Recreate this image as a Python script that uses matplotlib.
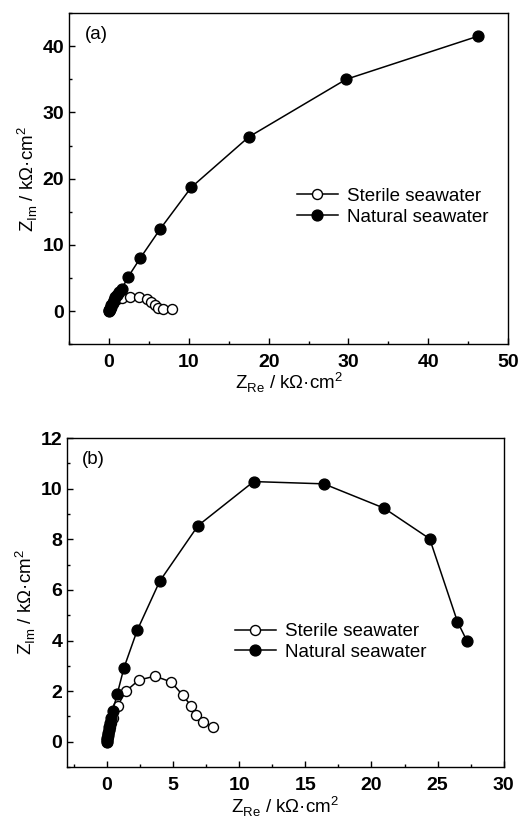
import numpy as np
import matplotlib
matplotlib.use("Agg")
import matplotlib.pyplot as plt
from matplotlib.ticker import MultipleLocator

plt.rcParams["font.family"] = ["Liberation Sans", "DejaVu Sans"]
plt.rcParams["mathtext.fontset"] = "custom"
plt.rcParams["mathtext.rm"] = "Liberation Sans"

# Panel (a)
a_sterile_re = [0.0, 0.08, 0.15, 0.25, 0.4, 0.55, 0.75, 1.0, 1.6, 2.6, 3.7, 4.7, 5.3, 5.8, 6.1, 6.8, 7.9]
a_sterile_im = [0.0, 0.25, 0.5, 0.8, 1.1, 1.4, 1.7, 1.9, 2.0, 2.2, 2.2, 1.9, 1.4, 0.9, 0.55, 0.3, 0.3]
a_natural_re = [0.0, 0.05, 0.1, 0.2, 0.3, 0.45, 0.6, 0.8, 1.0, 1.2, 1.6, 2.4, 3.9, 6.4, 10.3, 17.5, 29.7, 46.2]
a_natural_im = [0.0, 0.2, 0.4, 0.7, 1.0, 1.3, 1.7, 2.1, 2.5, 2.9, 3.4, 5.2, 8.0, 12.4, 18.7, 26.3, 35.0, 41.5]

# Panel (b)
b_sterile_re = [0.0, 0.03, 0.06, 0.1, 0.15, 0.22, 0.3, 0.5, 0.83, 1.45, 2.43, 3.65, 4.88, 5.75, 6.4, 6.75, 7.25, 8.05]
b_sterile_im = [0.0, 0.1, 0.2, 0.32, 0.45, 0.6, 0.75, 0.93, 1.43, 2.0, 2.44, 2.59, 2.36, 1.83, 1.4, 1.04, 0.76, 0.6]
b_natural_re = [0.0, 0.02, 0.04, 0.07, 0.1, 0.14, 0.18, 0.23, 0.3, 0.45, 0.8, 1.3, 2.3, 4.0, 6.9, 11.1, 16.4, 20.95, 24.4, 26.5, 27.2]
b_natural_im = [0.0, 0.08, 0.16, 0.25, 0.35, 0.47, 0.6, 0.75, 0.92, 1.22, 1.9, 2.92, 4.4, 6.34, 8.54, 10.28, 10.19, 9.23, 8.02, 4.74, 4.0]

fig = plt.figure(figsize=(5.32, 8.18), dpi=100)

ylab = "Z$_{\\rm Im}$ / k\u03a9\u00b7cm$^2$"
xlab = "Z$_{\\rm Re}$ / k\u03a9\u00b7cm$^2$"


def panel(ax, sre, sim, nre, nim, tag, xpad):
    ax.plot(sre, sim, "-o", color="black", mfc="white", mec="black",
            ms=7.2, lw=1.1, mew=1.0, label="Sterile seawater")
    ax.plot(nre, nim, "-o", color="black", mfc="black",
            ms=7.8, lw=1.1, label="Natural seawater")
    ax.tick_params(direction="in", which="both", labelsize=14,
                   top=False, right=False, width=1.0)
    ax.tick_params(axis="x", pad=7)
    ax.tick_params(which="major", length=4)
    ax.tick_params(which="minor", length=2.5)
    for lab in ax.get_xticklabels() + ax.get_yticklabels():
        lab.set_fontweight("bold")
    for sp in ax.spines.values():
        sp.set_linewidth(1.0)
    ax.text(0.035, 0.935, tag, transform=ax.transAxes, fontsize=13.5,
            va="center", ha="left")
    ax.set_ylabel(ylab, fontsize=13.5, labelpad=2)
    ax.set_xlabel(xlab, fontsize=13.5, labelpad=xpad)


ax1 = fig.add_axes([0.130, 0.579, 0.825, 0.405])
ax1.set_xlim(-5, 50)
ax1.set_ylim(-5, 45)
ax1.xaxis.set_major_locator(MultipleLocator(10))
ax1.xaxis.set_minor_locator(MultipleLocator(5))
ax1.yaxis.set_major_locator(MultipleLocator(10))
ax1.yaxis.set_minor_locator(MultipleLocator(5))
panel(ax1, a_sterile_re, a_sterile_im, a_natural_re, a_natural_im, "(a)", 0)
ax1.legend(loc="center left", bbox_to_anchor=(0.48, 0.415), frameon=False,
           fontsize=13.5, handlelength=2.2, handletextpad=0.5, labelspacing=0.2)

ax2 = fig.add_axes([0.126, 0.0623, 0.821, 0.4022])
ax2.set_xlim(-3, 30)
ax2.set_ylim(-1, 12)
ax2.xaxis.set_major_locator(MultipleLocator(5))
ax2.xaxis.set_minor_locator(MultipleLocator(2.5))
ax2.yaxis.set_major_locator(MultipleLocator(2))
ax2.yaxis.set_minor_locator(MultipleLocator(1))
panel(ax2, b_sterile_re, b_sterile_im, b_natural_re, b_natural_im, "(b)", 0.5)
ax2.legend(loc="center left", bbox_to_anchor=(0.345, 0.38), frameon=False,
           fontsize=13.5, handlelength=2.2, handletextpad=0.5, labelspacing=0.2)

fig.savefig("out.png", dpi=100)
